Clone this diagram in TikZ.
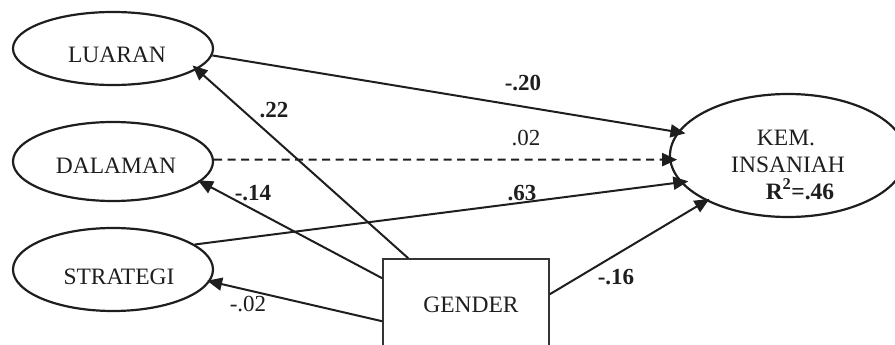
\documentclass[tikz,border=0pt]{standalone}
\usepackage{fontspec}
\setmainfont{Liberation Serif}
\usetikzlibrary{arrows.meta,shapes.geometric}
\definecolor{ink}{HTML}{1E1E1E}
\begin{document}
\begin{tikzpicture}[x=1pt,y=-1pt,
  ell/.style={draw=ink,ellipse,line width=2.2pt,inner sep=0pt},
  txt/.style={anchor=base,inner sep=0pt,text=ink,font=\fontsize{23.5}{27}\selectfont},
  coef/.style={anchor=base,inner sep=0pt,text=ink,font=\fontsize{23}{27}\selectfont},
  bcoef/.style={anchor=base,inner sep=0pt,text=ink,font=\fontsize{23}{27}\selectfont\bfseries},
  arr/.style={draw=ink,line width=2pt,-{Triangle[length=15pt,width=13pt]}},
  tokem/.style={arr,shorten >=-8pt},
  toleft/.style={arr,shorten >=-3pt}]
\useasboundingbox (0,0) rectangle (895,345);
\clip (0,0) rectangle (895,345);
% shapes
\node[ell,minimum width=200pt,minimum height=73pt] (luaran) at (113,48.5) {};
\node[ell,minimum width=200pt,minimum height=79pt] (dalaman) at (113,161.5) {};
\node[ell,minimum width=200pt,minimum height=83pt] (strategi) at (113,269.5) {};
\node[ell,minimum width=236pt,minimum height=123pt] (kem) at (788,155.5) {};
\node[draw=ink!90,line width=1.5pt,minimum width=166pt,minimum height=101pt,inner sep=0pt] (gender) at (466,309.5) {};
% texts
\node[txt] (tluaran) at (117,62.7) {LUARAN};
\node[txt] (tdalaman) at (116,173.3) {DALAMAN};
\node[txt] (tstrategi) at (119,284) {STRATEGI};
\node[txt] (tgender) at (471,312) {GENDER};
\node[txt] (tkem) at (786,145) {KEM.};
\node[txt] (tins) at (788,172) {INSANIAH};
\node[txt,font=\fontsize{23.5}{27}\selectfont\bfseries] (tr2) at (800,199) {R\textsuperscript{2}=.46};
% connectors
\draw[tokem] (luaran.-4) -- (kem.168);
\draw[tokem,dash pattern=on 8pt off 5.5pt] (dalaman.1) -- (kem.182);
\draw[tokem] (strategi.17) -- (kem.194);
\draw[tokem,shorten >=-4pt] ([yshift=-36pt]gender.north east) -- (kem.209);
\draw[arr,shorten >=-6pt] ([xshift=26pt]gender.north west) -- (luaran.-14);
\draw[toleft] ([yshift=-20pt]gender.north west) -- (dalaman.-13);
\draw[toleft] ([yshift=-63pt]gender.north west) -- (strategi.-7);
% coefficients
\node[bcoef] (c1) at (523,90.7) {-.20};
\node[coef] (c2) at (526,145.7) {.02};
\node[bcoef] (c3) at (522,200) {.63};
\node[bcoef] (c4) at (616,284) {-.16};
\node[bcoef] (c5) at (274,117.3) {.22};
\node[bcoef] (c6) at (253,200) {-.14};
\node[coef] (c7) at (248,311.7) {-.02};
\end{tikzpicture}
\end{document}
